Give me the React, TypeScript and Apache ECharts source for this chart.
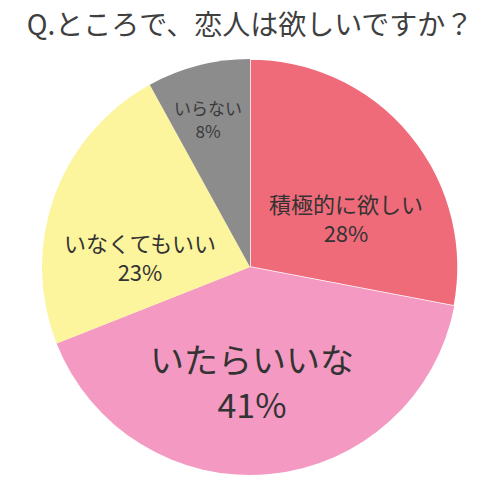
import { useEffect, useRef } from "react";
import * as echarts from "echarts";

const categories = ["積極的に欲しい", "いたらいいな", "いなくてもいい", "いらない"];
const percents = [28, 41, 23, 8];
const colors = ["#f06b7a", "#f49ac2", "#fcf59d", "#8c8c8c"];

// label block centres (px), font sizes and line heights per slice
const labelPos = [
  [346, 217],
  [252, 381],
  [140, 256],
  [208, 119],
];
const labelSize = [22, 34, 22, 17];
const labelLine = [29, 45, 29, 23];

const FONT = '"Noto Sans CJK JP", "Noto Sans", sans-serif';

export default function App(): JSX.Element {
  const chartRef = useRef<HTMLDivElement>(null);
  useEffect(() => {
    const chart = echarts.init(chartRef.current, null, { renderer: "svg" });
    const data = categories.map((name, i) => ({
      name,
      value: percents[i],
      itemStyle: {
        color: colors[i],
        borderColor: "#ffffff",
        borderWidth: i === 0 ? 1.5 : 0,
      },
      label: {
        fontSize: labelSize[i],
        lineHeight: labelLine[i],
        color: i === 3 ? "#3a3a3a" : "#333333",
      },
    }));
    chart.setOption({
      animation: false,
      backgroundColor: "#ffffff",
      title: {
        text: "Q.ところで、恋人は欲しいですか？",
        left: "center",
        top: 4,
        textStyle: {
          fontFamily: FONT,
          fontSize: 28,
          fontWeight: "normal",
          color: "#3f3f3f",
        },
      },
      series: [
        {
          type: "pie",
          center: [250, 267],
          radius: 208,
          startAngle: 90,
          clockwise: true,
          silent: true,
          data,
          label: {
            show: true,
            position: "inside",
            fontFamily: FONT,
            align: "center",
            formatter: (p: any) => `${p.name}\n${p.value}%`,
          },
          labelLine: { show: false },
          labelLayout: (p: any) => ({
            x: labelPos[p.dataIndex][0],
            y: labelPos[p.dataIndex][1],
            align: "center",
            verticalAlign: "middle",
          }),
        },
      ],
    });
    return () => {
      chart.dispose();
    };
  }, []);

  return (
    <div
      ref={chartRef}
      style={{ position: "fixed", left: 0, top: 0, width: 500, height: 487 }}
    ></div>
  );
}
